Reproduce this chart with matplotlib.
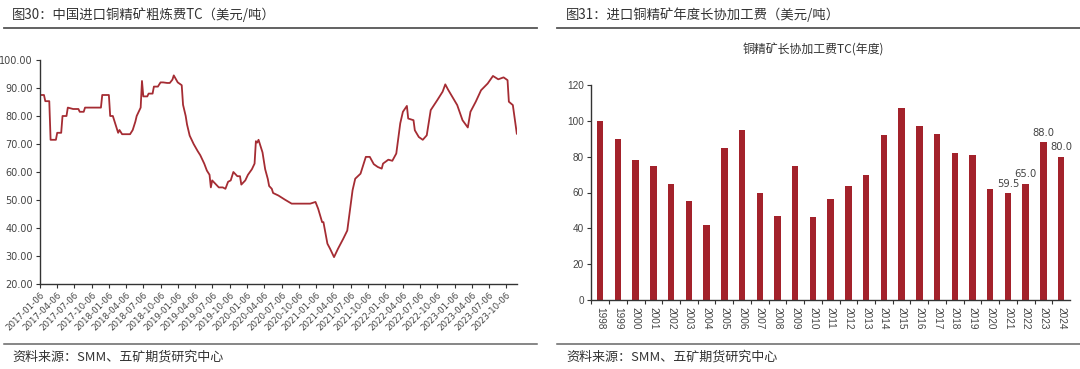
import matplotlib
matplotlib.use("Agg")
import matplotlib.pyplot as plt
from matplotlib.lines import Line2D
import pandas as pd

plt.rcParams['font.family'] = ['Noto Sans CJK SC', 'DejaVu Sans']

# ---------------- data: left chart (weekly TC, USD/t) ----------------
tc_dates = [
    "2017-01-06", "2017-01-27", "2017-02-03", "2017-02-24", "2017-03-03", "2017-03-31",
    "2017-04-07", "2017-04-28", "2017-05-05", "2017-05-26", "2017-06-02", "2017-06-30",
    "2017-07-28", "2017-08-04", "2017-08-25", "2017-09-01", "2017-11-24", "2017-12-01",
    "2018-01-05", "2018-01-12", "2018-01-26", "2018-02-23", "2018-03-02", "2018-03-16",
    "2018-04-27", "2018-05-11", "2018-05-25", "2018-06-01", "2018-06-22", "2018-06-29",
    "2018-07-06", "2018-07-27", "2018-08-03", "2018-08-24", "2018-08-31", "2018-09-21",
    "2018-10-05", "2018-10-19", "2018-11-09", "2018-11-23", "2018-12-07", "2018-12-14",
    "2019-01-04", "2019-01-25", "2019-02-01", "2019-02-15", "2019-02-22", "2019-03-08",
    "2019-03-29", "2019-04-19", "2019-05-03", "2019-05-24", "2019-06-07", "2019-06-21",
    "2019-06-28", "2019-07-05", "2019-08-02", "2019-08-09", "2019-08-30", "2019-09-13",
    "2019-09-27", "2019-10-11", "2019-10-25", "2019-11-15", "2019-11-29", "2019-12-06",
    "2019-12-27", "2020-01-10", "2020-01-31", "2020-02-14", "2020-02-21", "2020-02-28",
    "2020-03-06", "2020-03-27", "2020-04-10", "2020-04-24", "2020-05-01", "2020-05-15",
    "2020-05-22", "2020-06-19", "2020-07-24", "2020-08-28", "2020-10-30", "2020-12-04",
    "2021-01-01", "2021-01-15", "2021-02-05", "2021-02-12", "2021-03-05", "2021-03-19",
    "2021-04-09", "2021-04-30", "2021-05-28", "2021-06-18", "2021-07-02", "2021-07-16",
    "2021-07-30", "2021-08-27", "2021-09-10", "2021-09-24", "2021-10-15", "2021-11-05",
    "2021-11-26", "2021-12-17", "2021-12-24", "2022-01-21", "2022-02-11", "2022-03-04",
    "2022-03-25", "2022-04-08", "2022-04-29", "2022-05-06", "2022-06-03", "2022-06-10",
    "2022-07-01", "2022-07-22", "2022-08-12", "2022-09-02", "2022-10-07", "2022-11-04",
    "2022-11-18", "2022-12-02", "2022-12-30", "2023-01-20", "2023-02-17", "2023-03-17",
    "2023-03-31", "2023-04-28", "2023-05-26", "2023-06-30", "2023-07-28", "2023-08-25",
    "2023-09-22", "2023-10-13", "2023-10-20", "2023-11-10", "2023-12-01",
]
tc_values = [
    87.5, 87.5, 85.3, 85.3, 71.5, 71.5,
    74.0, 74.0, 80.0, 80.0, 83.0, 82.5,
    82.5, 81.5, 81.5, 83.0, 83.0, 87.5,
    87.5, 80.0, 80.0, 74.0, 75.0, 73.5,
    73.5, 75.0, 78.0, 80.0, 83.0, 92.5,
    87.0, 87.0, 88.0, 88.0, 90.5, 90.5,
    92.0, 92.0, 91.8, 91.8, 93.0, 94.5,
    92.0, 91.0, 84.0, 80.0, 77.0, 73.0,
    70.0, 67.5, 66.0, 63.0, 60.5, 59.0,
    54.5, 57.0, 55.0, 54.5, 54.5, 54.0,
    56.5, 57.0, 60.0, 58.5, 58.5, 55.5,
    57.0, 59.0, 61.0, 63.0, 71.0, 70.5,
    71.5, 67.0, 61.0, 57.5, 55.0, 54.0,
    52.5, 51.6, 50.1, 48.7, 48.7, 48.7,
    49.3, 46.9, 42.1, 42.1, 34.4, 32.6,
    29.6, 32.6, 36.2, 39.1, 46.3, 53.5,
    57.6, 59.4, 62.4, 65.4, 65.4, 62.8,
    61.8, 61.2, 63.0, 64.4, 64.0, 66.6,
    77.4, 81.5, 83.6, 79.1, 78.5, 74.9,
    72.5, 71.5, 73.1, 82.1, 85.7, 88.7,
    91.3, 89.5, 86.3, 83.9, 78.5, 75.9,
    81.5, 85.1, 89.2, 91.6, 94.3, 93.1,
    93.8, 92.8, 85.1, 83.9, 73.7,
]
left_yticks = [20, 30, 40, 50, 60, 70, 80, 90, 100]
left_xtick_dates = [f"{y}-{m:02d}-06" for y in range(2017, 2024) for m in (1, 4, 7, 10)]

# ---------------- data: right chart (annual benchmark TC) ----------------
years = [str(y) for y in range(1998, 2025)]
annual_tc = [100, 90, 78, 75, 65, 55, 42, 85, 95, 60, 47, 75, 46.5, 56.5,
             63.5, 70, 92, 107, 97.35, 92.5, 82.25, 80.8, 62, 59.5, 65, 88, 80]
labelled_years = ["2021", "2022", "2023", "2024"]
right_yticks = [0, 20, 40, 60, 80, 100, 120]

# ---------------- texts ----------------
left_title = "图30：中国进口铜精矿粗炼费TC（美元/吨）"
right_title = "图31：进口铜精矿年度长协加工费（美元/吨）"
right_chart_title = "铜精矿长协加工费TC(年度)"
source_text = "资料来源：SMM、五矿期货研究中心"

LINE_COLOR = "#A52C33"
BAR_COLOR = "#A3222B"
TEXT_COLOR = "#333333"
TICK_COLOR = "#444444"

W, H = 1080, 369
fig = plt.figure(figsize=(W / 100, H / 100), dpi=100)
fig.patch.set_facecolor("white")


def fx(px):
    return px / W


def fy(py):
    return 1 - py / H


# ---- header / footer decorations ----
for (x0, x1, tx, title) in [(4, 537, 12, left_title), (557, 1080, 566, right_title)]:
    fig.text(fx(tx), fy(15), title, fontsize=9.6, color=TEXT_COLOR, va="center", ha="left")
    fig.add_artist(Line2D([fx(x0), fx(x1)], [fy(27.5), fy(27.5)], color="#555555", lw=1.3))
    fig.add_artist(Line2D([fx(x0), fx(x1)], [fy(343.5), fy(343.5)], color="#666666", lw=1.1))
    fig.text(fx(tx), fy(357), source_text, fontsize=9.4, color=TEXT_COLOR, va="center", ha="left")

# ---- left chart ----
axL = fig.add_axes([fx(40), fy(284), fx(517) - fx(40), (284 - 60) / H])
dates = pd.to_datetime(tc_dates)
axL.plot(dates, tc_values, color=LINE_COLOR, lw=1.3)
axL.set_ylim(20, 100)
axL.set_xlim(pd.Timestamp("2017-01-06"), pd.Timestamp("2023-12-02"))
axL.set_yticks(left_yticks)
axL.set_yticklabels([f"{v:.2f}" for v in left_yticks], fontsize=7.0, color=TICK_COLOR,
                    family=["DejaVu Sans"])
qticks = pd.to_datetime(left_xtick_dates)
axL.set_xticks(qticks)
axL.set_xticklabels(left_xtick_dates, rotation=45, ha="right",
                    rotation_mode="anchor", fontsize=6.2, color=TICK_COLOR,
                    family=["DejaVu Sans"])
for s in ["top", "right"]:
    axL.spines[s].set_visible(False)
for s in ["left", "bottom"]:
    axL.spines[s].set_color("#333333")
    axL.spines[s].set_linewidth(1.0)
axL.tick_params(axis="both", length=3, width=0.8, color="#333333", pad=2)

# ---- right chart ----
axR = fig.add_axes([fx(591), fy(300), fx(1070) - fx(591), (300 - 85) / H])
xpos = list(range(len(years)))
axR.bar(xpos, annual_tc, width=0.36, color=BAR_COLOR)
axR.set_xlim(-0.52, len(years) - 0.5)
axR.set_ylim(0, 120)
axR.set_yticks(right_yticks)
axR.set_yticklabels([str(v) for v in right_yticks], fontsize=7.2, color=TICK_COLOR,
                    family=["Liberation Sans"])
axR.set_xticks(xpos)
axR.set_xticklabels(years, rotation=-90, fontsize=7.2, color=TICK_COLOR,
                    family=["Liberation Sans"], va="top", ha="center")
axR.set_xticks([p + 0.5 for p in xpos[:-1]] + [-0.5], minor=True)
axR.tick_params(axis="x", which="major", length=0, pad=5)
axR.tick_params(axis="x", which="minor", length=3, width=0.8, color="#333333")
axR.tick_params(axis="y", length=3, width=0.8, color="#333333", pad=2)
for s in ["top", "right"]:
    axR.spines[s].set_visible(False)
for s in ["left", "bottom"]:
    axR.spines[s].set_color("#333333")
    axR.spines[s].set_linewidth(1.0)
for yr, v in zip(years, annual_tc):
    if yr in labelled_years:
        axR.annotate(f"{v:.1f}", (years.index(yr), v), xytext=(0, 3),
                     textcoords="offset points", ha="center", va="bottom",
                     fontsize=7.2, color=TICK_COLOR, family=["DejaVu Sans"])
fig.text(fx(813), fy(50), right_chart_title, fontsize=8.6, color=TEXT_COLOR,
         ha="center", va="center")

fig.savefig("out.png", dpi=100)
